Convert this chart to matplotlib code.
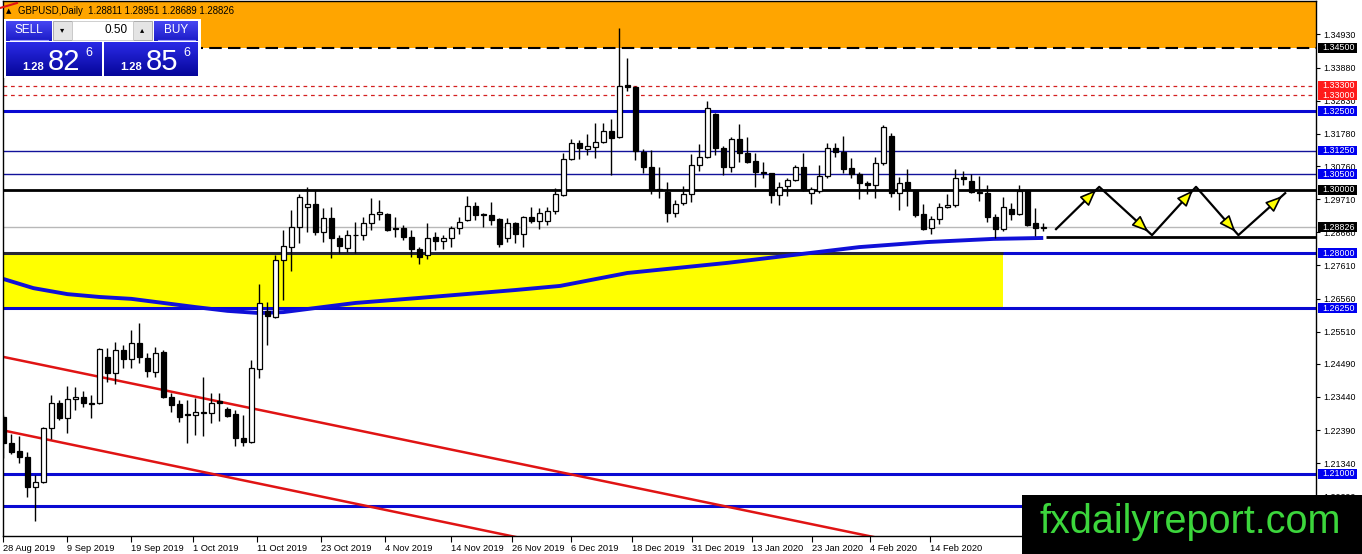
import numpy as np
import matplotlib.pyplot as plt
from matplotlib.patches import Rectangle
from matplotlib.colors import LinearSegmentedColormap

plt.rcParams['font.family'] = ['Liberation Sans', 'DejaVu Sans']

# GBPUSD daily bars (bar 0 = 28 Aug 2019)
opens = [1.2280, 1.2198, 1.2173, 1.2154, 1.2058, 1.2074, 1.2246, 1.2325, 1.2277, 1.2337,
         1.2344, 1.2325, 1.2325, 1.2471, 1.2420, 1.2493, 1.2464, 1.2515, 1.2467, 1.2423,
         1.2486, 1.2344, 1.2322, 1.2290, 1.2287, 1.2293, 1.2293, 1.2331, 1.2306, 1.2290,
         1.2214, 1.2201, 1.2433, 1.2616, 1.2597, 1.2778, 1.2819, 1.2883, 1.2946, 1.2956,
         1.2867, 1.2911, 1.2848, 1.2816, 1.2857, 1.2857, 1.2895, 1.2924, 1.2924, 1.2880,
         1.2880, 1.2851, 1.2813, 1.2794, 1.2851, 1.2838, 1.2848, 1.2880, 1.2905, 1.2949,
         1.2924, 1.2921, 1.2908, 1.2848, 1.2895, 1.2861, 1.2914, 1.2902, 1.2902, 1.2933,
         1.2984, 1.3098, 1.3149, 1.3130, 1.3136, 1.3152, 1.3187, 1.3168, 1.3333, 1.3327,
         1.3120, 1.3073, 1.3003, 1.2994, 1.2927, 1.2959, 1.2987, 1.3079, 1.3105, 1.3241,
         1.3133, 1.3073, 1.3162, 1.3117, 1.3092, 1.3057, 1.3054, 1.2984, 1.3013, 1.3032,
         1.3073, 1.2990, 1.2997, 1.3044, 1.3133, 1.3120, 1.3070, 1.3051, 1.3022, 1.3016,
         1.3086, 1.3171, 1.2990, 1.3025, 1.3000, 1.2924, 1.2880, 1.2908, 1.2946, 1.2952,
         1.3041, 1.3029, 1.2994, 1.2990, 1.2914, 1.2876, 1.2940, 1.2924, 1.2997, 1.2895,
         1.28811]
highs = [1.2287, 1.2227, 1.2220, 1.2170, 1.2097, 1.2249, 1.2350, 1.2334, 1.2379, 1.2376,
         1.2363, 1.2350, 1.2499, 1.2499, 1.2518, 1.2509, 1.2556, 1.2578, 1.2483, 1.2502,
         1.2493, 1.2356, 1.2334, 1.2334, 1.2341, 1.2407, 1.2356, 1.2356, 1.2312, 1.2303,
         1.2287, 1.2461, 1.2702, 1.2645, 1.2794, 1.2873, 1.2937, 1.2987, 1.3010, 1.3000,
         1.2943, 1.2946, 1.2857, 1.2873, 1.2899, 1.2914, 1.2975, 1.2968, 1.2927, 1.2914,
         1.2889, 1.2873, 1.2819, 1.2895, 1.2867, 1.2857, 1.2886, 1.2914, 1.2981, 1.2962,
         1.2927, 1.2962, 1.2911, 1.2911, 1.2899, 1.2918, 1.2946, 1.2943, 1.2946, 1.3006,
         1.3117, 1.3162, 1.3158, 1.3178, 1.3212, 1.3212, 1.3225, 1.3513, 1.3418, 1.3330,
         1.3130, 1.3127, 1.3073, 1.3025, 1.2968, 1.3013, 1.3114, 1.3146, 1.3282, 1.3244,
         1.3139, 1.3168, 1.3209, 1.3168, 1.3117, 1.3089, 1.3054, 1.3025, 1.3038, 1.3079,
         1.3117, 1.3010, 1.3079, 1.3149, 1.3149, 1.3171, 1.3101, 1.3057, 1.3029, 1.3105,
         1.3206, 1.3181, 1.3041, 1.3067, 1.3000, 1.2956, 1.2918, 1.2959, 1.2987, 1.3067,
         1.3060, 1.3051, 1.3044, 1.3016, 1.2924, 1.2978, 1.2959, 1.3016, 1.3000, 1.2943,
         1.28951]
lows = [1.2150, 1.2163, 1.2135, 1.2027, 1.1951, 1.2071, 1.2211, 1.2271, 1.2230, 1.2303,
        1.2312, 1.2277, 1.2322, 1.2391, 1.2385, 1.2436, 1.2436, 1.2452, 1.2407, 1.2407,
        1.2341, 1.2296, 1.2265, 1.2198, 1.2223, 1.2220, 1.2261, 1.2268, 1.2280, 1.2189,
        1.2189, 1.2198, 1.2404, 1.2509, 1.2594, 1.2651, 1.2743, 1.2832, 1.2867, 1.2857,
        1.2835, 1.2784, 1.2800, 1.2803, 1.2800, 1.2842, 1.2873, 1.2905, 1.2870, 1.2851,
        1.2842, 1.2788, 1.2765, 1.2781, 1.2810, 1.2813, 1.2819, 1.2861, 1.2902, 1.2905,
        1.2883, 1.2889, 1.2819, 1.2835, 1.2832, 1.2819, 1.2895, 1.2876, 1.2889, 1.2924,
        1.2981, 1.3095, 1.3098, 1.3111, 1.3101, 1.3149, 1.3048, 1.3165, 1.3314, 1.3095,
        1.3054, 1.2987, 1.2975, 1.2899, 1.2914, 1.2952, 1.2962, 1.3060, 1.3101, 1.3111,
        1.3048, 1.3057, 1.3089, 1.3086, 1.3010, 1.3038, 1.2959, 1.2952, 1.2981, 1.3029,
        1.2997, 1.2956, 1.2990, 1.3038, 1.3105, 1.3054, 1.3038, 1.2971, 1.2987, 1.2975,
        1.3079, 1.2978, 1.2937, 1.2949, 1.2914, 1.2873, 1.2861, 1.2892, 1.2943, 1.2946,
        1.3016, 1.2990, 1.2965, 1.2899, 1.2848, 1.2870, 1.2905, 1.2921, 1.2886, 1.2854,
        1.28689]
closes = [1.2198, 1.2169, 1.2154, 1.2058, 1.2074, 1.2246, 1.2325, 1.2277, 1.2337, 1.2344,
          1.2325, 1.2322, 1.2496, 1.2420, 1.2493, 1.2464, 1.2515, 1.2471, 1.2426, 1.2483,
          1.2344, 1.2318, 1.2280, 1.2287, 1.2296, 1.2296, 1.2325, 1.2325, 1.2284, 1.2214,
          1.2201, 1.2436, 1.2642, 1.2601, 1.2778, 1.2822, 1.2883, 1.2978, 1.2956, 1.2867,
          1.2911, 1.2848, 1.2822, 1.2857, 1.2858, 1.2895, 1.2924, 1.2930, 1.2873, 1.2876,
          1.2851, 1.2813, 1.2788, 1.2848, 1.2838, 1.2848, 1.2880, 1.2899, 1.2949, 1.2921,
          1.2921, 1.2905, 1.2829, 1.2895, 1.2861, 1.2914, 1.2902, 1.2927, 1.2933, 1.2987,
          1.3098, 1.3149, 1.3133, 1.3139, 1.3152, 1.3187, 1.3165, 1.3330, 1.3327, 1.3124,
          1.3073, 1.3000, 1.3000, 1.2927, 1.2956, 1.2987, 1.3079, 1.3105, 1.3260, 1.3133,
          1.3073, 1.3162, 1.3117, 1.3089, 1.3057, 1.3054, 1.2984, 1.3010, 1.3032, 1.3073,
          1.3000, 1.3003, 1.3044, 1.3133, 1.3120, 1.3067, 1.3051, 1.3022, 1.3016, 1.3086,
          1.3200, 1.2990, 1.3022, 1.3000, 1.2921, 1.2876, 1.2908, 1.2946, 1.2952, 1.3038,
          1.3035, 1.2994, 1.2990, 1.2914, 1.2876, 1.2946, 1.2924, 1.2997, 1.2889, 1.2880,
          1.28826]

# 200 MA read at a few bars
ma_bar = [0, 3.75, 8, 12, 16, 20, 24, 28, 32, 35, 39, 44, 52, 64, 69.6, 78, 90.5, 98.75, 107, 115.5, 123.75, 130]
ma_val = [1.2718, 1.2689, 1.2670, 1.2661, 1.2655, 1.2642, 1.2629, 1.2617, 1.2610, 1.2613, 1.2626,
          1.2642, 1.2658, 1.2683, 1.2696, 1.2737, 1.2769, 1.2794, 1.2819, 1.2835, 1.2845, 1.2848]

# trend channel (red)
upper_x, upper_y = [0, 110], [1.2471, 1.1894]
lower_x, lower_y = [0, 70], [1.2238, 1.1869]

# projected zigzag
zig_x = [131.6, 137.0, 143.6, 149.1, 154.4, 160.25]
zig_y = [1.2876, 1.3010, 1.2857, 1.3010, 1.2857, 1.2990]
support_level, support_from = 1.2851, 130.4

blue_thick = [1.3250, 1.2800, 1.2625, 1.2100, 1.2000]
blue_thin = [1.3125, 1.3050]
red_dashed = [1.3330, 1.3300]
black_level = 1.3000
zone_level = 1.3450
yellow_lo, yellow_hi, yellow_end = 1.2625, 1.2800, 125
last_price = 1.28826

# price tags on the right axis (the 1.20000 tag sits under the watermark)
box_labels = [(1.3450, 'black'), (1.3330, '#ff1a1a'), (1.3300, '#ff1a1a'), (1.3250, '#0000f0'),
              (1.3125, '#0000f0'), (1.3050, '#0000f0'), (1.3000, 'black'), (1.28826, 'black'),
              (1.2800, '#0000f0'), (1.2625, '#0000f0'), (1.2100, '#0000f0')]

price_ticks = [1.34930, 1.33880, 1.32830, 1.31780, 1.30760, 1.29710, 1.28660, 1.27610,
               1.26560, 1.25510, 1.24490, 1.23440, 1.22390, 1.21340, 1.20290]

date_pos = [0, 7.9, 15.9, 23.75, 31.75, 39.75, 47.75, 55.9, 63.6, 71, 78.6, 86.1, 93.6, 101.1, 108.4, 115.9]
date_labels = ['28 Aug 2019', '9 Sep 2019', '19 Sep 2019', '1 Oct 2019', '11 Oct 2019', '23 Oct 2019',
               '4 Nov 2019', '14 Nov 2019', '26 Nov 2019', '6 Dec 2019', '18 Dec 2019', '31 Dec 2019',
               '13 Jan 2020', '23 Jan 2020', '4 Feb 2020', '14 Feb 2020']

W, H = 1362, 554
fig = plt.figure(figsize=(W / 100, H / 100), dpi=100)
ax = fig.add_axes([3 / W, 18 / H, 1313 / W, 535 / H])
ax.set_xlim(-0.05, 164.1)
ax.set_ylim(1.19035, 1.35989)

# zones
ax.axhspan(zone_level, 1.40, color='#ffa500', zorder=0.5, lw=0)
ax.add_patch(Rectangle((-2, yellow_lo), yellow_end + 2, yellow_hi - yellow_lo,
                       fc='#ffff00', ec='none', zorder=0.6))

# horizontal levels
ax.axhline(last_price, color='#b8b8b8', lw=1, zorder=1)
for v in blue_thick:
    ax.axhline(v, color='#0a0ad2', lw=2.2, zorder=1.2)
for v in blue_thin:
    ax.axhline(v, color='#12129a', lw=1, zorder=1.2)
for v in red_dashed:
    ax.axhline(v, color='#d42020', lw=0.9, ls=(0, (3, 3)), zorder=1.2)
ax.axhline(black_level, color='black', lw=2, zorder=1.3)
ax.axhline(zone_level, color='black', lw=1.5, ls=(0, (6, 3)), zorder=1.3)
ax.hlines(yellow_hi, -2, yellow_end, color='#2a2a2a', lw=2, zorder=1.3)
ax.hlines(support_level, support_from, 170, color='black', lw=2, zorder=1.3)

# trend channel
ax.plot(upper_x, upper_y, color='#e01414', lw=1.8, zorder=1.4)
ax.plot(lower_x, lower_y, color='#e01414', lw=1.8, zorder=1.4)

# moving average
ax.plot(ma_bar, ma_val, color='#1010d8', lw=2.8, zorder=2, solid_capstyle='butt')

# candles
o, h, l, c = map(np.array, (opens, highs, lows, closes))
x = np.arange(len(o))
up = c >= o
ax.vlines(x, l, h, color='black', lw=1, zorder=3)
lo = np.minimum(o, c)
hgt = np.maximum(np.abs(c - o), 0.00006)
ax.bar(x[up], hgt[up], bottom=lo[up], width=0.62, color='white', edgecolor='black', linewidth=0.9, zorder=4)
ax.bar(x[~up], hgt[~up], bottom=lo[~up], width=0.62, color='black', edgecolor='black', linewidth=0.9, zorder=4)

# zigzag projection
ax.plot(zig_x, zig_y, color='black', lw=1.6, zorder=5)
for i in range(len(zig_x) - 1):
    x0, y0, x1, y1 = zig_x[i], zig_y[i], zig_x[i + 1], zig_y[i + 1]
    tail = (x0 + 0.70 * (x1 - x0), y0 + 0.70 * (y1 - y0))
    tip = (x0 + 0.93 * (x1 - x0), y0 + 0.93 * (y1 - y0))
    ax.annotate('', xy=tip, xytext=tail, zorder=6,
                arrowprops=dict(arrowstyle='-|>,head_length=1.0,head_width=0.4',
                                fc='#ffff00', ec='black', lw=1.2, shrinkA=0, shrinkB=0))

# axes styling
for s in ax.spines.values():
    s.set_color('black')
    s.set_linewidth(1)
ax.yaxis.tick_right()
ax.set_yticks(price_ticks)
ax.set_yticklabels([f'{v:.5f}' for v in price_ticks])
ax.tick_params(axis='y', length=3, pad=2, labelsize=6.4, width=0.8)
ax.set_xticks(date_pos)
ax.set_xticklabels(date_labels, ha='left')
ax.tick_params(axis='x', length=4, pad=1.5, labelsize=6.7, width=0.8)

ytr = ax.get_yaxis_transform()
for v, col in box_labels:
    ax.add_patch(Rectangle((1 + 2 / 1313, v - 0.00155), 39 / 1313, 0.0031, transform=ytr,
                           fc=col, ec='none', clip_on=False, zorder=10))
    ax.text(1 + 6 / 1313, v, f'{v:.5f}', transform=ytr, color='white', fontsize=6.4,
            va='center', ha='left', zorder=11, clip_on=False)

# overlay: trading panel, header, watermark (pixel coordinates)
ov = fig.add_axes([0, 0, 1, 1])
ov.axis('off')


def grad_box(x0, y0, x1, y1, top, bot):
    cmap = LinearSegmentedColormap.from_list('g', [top, bot])
    ov.imshow(np.linspace(0, 1, 32).reshape(-1, 1), cmap=cmap, extent=(x0, x1, y1, y0),
              aspect='auto', zorder=3, interpolation='bilinear')


ov.plot([0, 17], [8, 3], color='#e01414', lw=1.5)
ov.text(6, 11, '▲', fontsize=5, va='center', family='DejaVu Sans')
ov.text(18, 11, 'GBPUSD,Daily  1.28811 1.28951 1.28689 1.28826', fontsize=6.9, va='center')

ov.add_patch(Rectangle((4, 19), 197, 59, fc='white', ec='none', zorder=2))
grad_box(6, 21, 52, 41, '#4646f2', '#1c1cc8')
grad_box(154, 21, 198, 41, '#4646f2', '#1c1cc8')
grad_box(6, 42, 102, 76, '#2a2ae6', '#06069a')
grad_box(104, 42, 198, 76, '#2a2ae6', '#06069a')
ov.plot([10, 48], [40, 40], color='#9a9aff', lw=0.8, zorder=4)
ov.plot([158, 195], [40, 40], color='#9a9aff', lw=0.8, zorder=4)
ov.add_patch(Rectangle((53, 21), 19, 19, fc='#e4e4e4', ec='#a0a0a0', lw=0.6, zorder=3))
ov.add_patch(Rectangle((133, 21), 19, 19, fc='#e4e4e4', ec='#a0a0a0', lw=0.6, zorder=3))
ov.add_patch(Rectangle((72, 21), 61, 19, fc='white', ec='#c8c8c8', lw=0.6, zorder=3))
ov.text(62.5, 30, '▾', fontsize=6, ha='center', va='center', zorder=5, family='DejaVu Sans')
ov.text(142.5, 30, '▴', fontsize=6, ha='center', va='center', zorder=5, family='DejaVu Sans')
ov.text(128, 30, '0.50', fontsize=8.5, ha='right', va='center', zorder=5)
ov.text(29, 30, 'SELL', fontsize=8.5, ha='center', va='center', color='white', zorder=5)
ov.text(176, 30, 'BUY', fontsize=8.5, ha='center', va='center', color='white', zorder=5)
for bx, big in ((0, '82'), (98, '85')):
    ov.text(22 + bx, 70, '1.28', fontsize=8, color='white', va='baseline', zorder=5, weight='bold')
    ov.text(48 + bx, 70, big, fontsize=21, color='white', va='baseline', zorder=5)
    ov.text(85 + bx, 56, '6', fontsize=9, color='white', va='baseline', zorder=5)

ov.add_patch(Rectangle((1022, 495), 340, 60, fc='black', ec='none', zorder=6))
ov.text(1039, 533, 'fxdailyreport.com', fontsize=28.5, color='#3cd63c', va='baseline', zorder=7)

ov.set_xlim(0, W)
ov.set_ylim(H, 0)

fig.savefig('out.png', dpi=100, facecolor='white')
